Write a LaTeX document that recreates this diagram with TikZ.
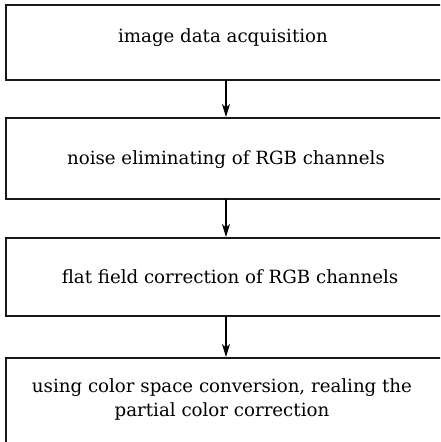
\documentclass[tikz,border=0pt]{standalone}
\usepackage{fontspec}
\setmainfont{DejaVu Serif}
\usetikzlibrary{arrows.meta}
\begin{document}
\begin{tikzpicture}[x=1pt,y=-1pt,
  stagebox/.style={draw=black!90,line width=2pt},
  stagetext/.style={font=\fontsize{18.2}{24}\selectfont,align=center,inner sep=0pt},
  flow/.style={draw=black,line width=1.1pt,-{Stealth[length=13pt,width=8pt,inset=3.5pt]}}]
\useasboundingbox (0,0) rectangle (440,442);
\clip (0,0) rectangle (440,442);
% process stages (they run past the right and lower edges)
\draw[stagebox] (6,5) rectangle (447,80);
\draw[stagebox] (6,118) rectangle (447,199);
\draw[stagebox] (6,238) rectangle (447,316);
\draw[stagebox] (6,358) rectangle (447,470);
\coordinate (b1) at (226,80);
\coordinate (t2) at (226,117);
\coordinate (b2) at (226,199);
\coordinate (t3) at (226,237);
\coordinate (b3) at (226,316);
\coordinate (t4) at (226,357);
\node[stagetext] (s1) at (223,38) {image data acquisition};
\node[stagetext] (s2) at (226,160) {noise eliminating of RGB channels};
\node[stagetext] (s3) at (230,277) {flat field correction of RGB channels};
\node[stagetext] (s4) at (222,399) {using color space conversion, realing the\\partial color correction};
% connectors
\draw[flow] (b1) -- (t2);
\draw[flow] (b2) -- (t3);
\draw[flow] (b3) -- (t4);
\end{tikzpicture}
\end{document}
